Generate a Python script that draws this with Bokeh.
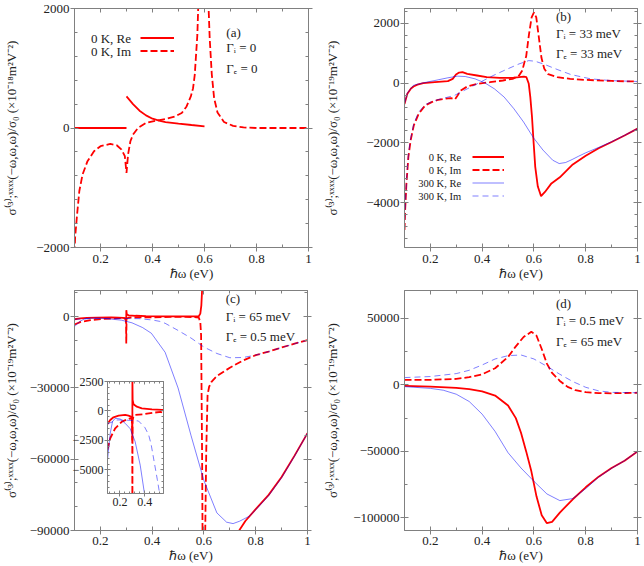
from bokeh.plotting import figure
from bokeh.models import (ColumnDataSource, FixedTicker, LinearAxis, Range1d,
                          Legend, LegendItem, Label, GridBox)
from bokeh.embed import file_html
from bokeh.resources import INLINE

nan = float("nan")

FONT = "Liberation Serif"
RED = "#ff0000"
BLUE = "#0000ff"
GRAY = "#808080"
TXT = "#222222"

# ---------------- ticks ----------------
x_ticks = [0.2, 0.4, 0.6, 0.8, 1.0]
x_tick_labels = ["0.2", "0.4", "0.6", "0.8", "1"]
x_minor = [0.3, 0.5, 0.7, 0.9]

a_yticks = [-2000, 0, 2000]
a_ytick_labels = ["\u22122000", "0", "2000"]
a_yminor = [-1600, -1200, -800, -400, 400, 800, 1200, 1600]

b_yticks = [-4000, -2000, 0, 2000]
b_ytick_labels = ["\u22124000", "\u22122000", "0", "2000"]
b_yminor = [-5200, -4800, -4400, -3600, -3200, -2800, -2400, -1600, -1200, -800, -400,
            400, 800, 1200, 1600, 2400]

c_yticks = [-90000, -60000, -30000, 0]
c_ytick_labels = ["\u221290000", "\u221260000", "\u221230000", "0"]
c_yminor = [-80000, -70000, -50000, -40000, -20000, -10000, 10000]

d_yticks = [-100000, -50000, 0, 50000]
d_ytick_labels = ["\u2212100000", "\u221250000", "0", "50000"]
d_yminor = [-75000, -25000, 25000]

in_xticks = [0.2, 0.4]
in_xtick_labels = ["0.2", "0.4"]
in_xminor = [0.12, 0.16, 0.24, 0.28, 0.32, 0.36, 0.44, 0.48, 0.52]
in_yticks = [-5000, -2500, 0, 2500]
in_ytick_labels = ["\u22125000", "\u22122500", "0", "2500"]
in_yminor = [-6500, -6000, -5500, -4500, -4000, -3500, -3000, -2000, -1500, -1000, -500,
             500, 1000, 1500, 2000]

# ---------------- panel (a): Gamma_i = 0, Gamma_e = 0 ----------------
a_re_x = [0.1, 0.3, nan, 0.3, 0.325, 0.35, 0.375, 0.4, 0.425, 0.45, 0.5, 0.55, 0.6]
a_re_y = [0, 0, nan, 528, 400, 290, 211, 156, 123, 100, 73, 50, 28]
a_im_x = [0.1, 0.1024, 0.11, 0.1186, 0.131, 0.15, 0.175, 0.2, 0.2375, 0.2625, 0.281,
          0.2936, 0.3, 0.306, 0.315, 0.325, 0.344, 0.375, 0.4124, 0.45, 0.4874, 0.5124,
          0.531, 0.5474, 0.556, 0.5625, 0.5725, 0.58, 0.59, 0.597, nan, 0.603, 0.61,
          0.615, 0.62, 0.628, 0.637, 0.65, 0.675, 0.71, 0.75, 0.8, 0.9, 1.0]
a_im_y = [-2100, -1833, -1444, -1055, -778, -555, -389, -305, -267, -289, -361,
          -472, -750, -444, -222, -111, 0, 84, 123, 150, 195, 250,
          361, 528, 667, 890, 1558, 2600, 5000, 12000, nan, 12000, 4000,
          2100, 1500, 900, 500, 260, 100, 35, 10, 0, 0, 0]

# ---------------- panel (b): 33 meV / 33 meV ----------------
b_re0_x = [0.1, 0.111, 0.125, 0.135, 0.15, 0.1725, 0.2175, 0.2675, 0.2862, 0.299, 0.311,
           0.324, 0.3425, 0.38, 0.4175, 0.4675, 0.5175, 0.5425, 0.561, 0.571, 0.58, 0.586,
           0.5925, 0.599, 0.605, 0.615, 0.6275, 0.6425, 0.6675, 0.7, 0.75, 0.8, 0.85, 0.9,
           0.95, 1.0]
b_re0_y = [-700, -355, -180, -110, -50, 0, 33, 67, 145, 290, 357,
           367, 312, 257, 200, 180, 180, 200, 223, 200, -20, -465,
           -1130, -2020, -2800, -3460, -3780, -3640, -3355, -3150, -2720, -2430, -2180, -1970,
           -1750, -1520]
b_im0_x = [0.1, 0.1025, 0.1075, 0.115, 0.1238, 0.136, 0.155, 0.18, 0.205, 0.23, 0.255,
           0.28, 0.295, 0.305, 0.3175, 0.3425, 0.38, 0.43, 0.48, 0.5175, 0.5425, 0.555,
           0.565, 0.57, 0.581, 0.591, 0.6, 0.609, 0.619, 0.629, 0.64, 0.655, 0.69, 0.74,
           0.8, 0.9, 1.0]
b_im0_y = [-4910, -4243, -3355, -2466, -1910, -1410, -1022, -744, -633, -555, -522,
           -500, -540, -411, -244, -110, -22, 33, 90, 145, 256, 423,
           756, 900, 1645, 2200, 2367, 2200, 1534, 850, 480, 300, 200, 145,
           110, 75, 55]
b_re3_x = [0.1, 0.111, 0.135, 0.1725, 0.2175, 0.2675, 0.305, 0.335, 0.3725, 0.41, 0.4475,
           0.485, 0.5225, 0.56, 0.5975, 0.635, 0.6725, 0.6975, 0.7225, 0.7475, 0.7725, 0.8,
           0.85, 0.9, 0.95, 1.0]
b_re3_y = [-687, -330, -70, 11, 90, 180, 235, 223, 145, 11, -190,
           -466, -855, -1300, -1820, -2240, -2578, -2690, -2655, -2555, -2445, -2330,
           -2150, -1960, -1745, -1520]
b_im3_x = [0.1, 0.1025, 0.1075, 0.115, 0.1238, 0.136, 0.155, 0.18, 0.205, 0.23, 0.2925,
           0.3425, 0.3925, 0.4425, 0.4925, 0.5425, 0.58, 0.605, 0.6425, 0.6925, 0.7425,
           0.769, 0.819, 0.9, 1.0]
b_im3_y = [-4900, -4200, -3300, -2400, -1850, -1350, -966, -720, -620, -550, -411,
           -189, 33, 256, 456, 645, 756, 734, 623, 450, 290,
           240, 145, 85, 57]

# ---------------- panel (c): 65 meV / 0.5 meV ----------------
c_re0_x = [0.1, 0.122, 0.148, 0.189, 0.242, 0.269, 0.288, 0.297, 0.2998, 0.3002, 0.302,
           0.309, 0.336, 0.376, 0.457, 0.537, 0.56, 0.58, 0.586, 0.59, 0.5925, 0.595, nan,
           0.605, 0.62, 0.66, 0.7, 0.736, 0.76, 0.8, 0.85, 0.9, 0.95, 1.0]
c_re0_y = [-1100, -762, -534, -398, -339, -398, -483, -700, -2500, 2700, 932,
           567, 364, 229, 144, 85, 100, 140, 1260, 4760, 10360, 30000, nan,
           -300000, -180000, -120000, -100000, -90000, -86000, -81000, -75000, -67500,
           -58500, -49000]
c_im0_x = [0.1, 0.122, 0.162, 0.216, 0.261, 0.282, 0.295, 0.299, 0.3, 0.301, 0.31,
           0.323, 0.389, 0.47, 0.529, 0.56, 0.58, 0.586, 0.589, 0.59, 0.593, 0.596, nan,
           0.604, 0.605, 0.609, 0.614, 0.62, 0.63, 0.65, 0.7, 0.75, 0.8, 0.85, 0.9, 0.95,
           1.0]
c_im0_y = [-3300, -2315, -1467, -905, -706, -621, -700, -1500, -11350, -800, -400,
           -339, -282, -141, -85, -200, -420, -2270, -7840, -20000, -60000, -120000, nan,
           -120000, -90000, -56000, -33000, -29500, -27300, -25000, -21500, -18500,
           -16200, -14700, -13000, -11400, -9900]
c_re3_x = [0.1, 0.103, 0.122, 0.14, 0.162, 0.202, 0.242, 0.282, 0.322, 0.363, 0.397,
           0.45, 0.5, 0.55, 0.6, 0.65, 0.6875, 0.7125, 0.7375, 0.775, 0.8, 0.85, 0.9,
           0.95, 1.0]
c_re3_y = [-4100, -3870, -1890, -906, -620, -677, -1044, -1500, -2600, -4600, -7000,
           -15000, -30000, -50000, -69000, -82600, -86500, -87100, -86100, -84000, -81300,
           -75300, -67800, -58700, -49000]
c_im3_x = [0.1, 0.1755, 0.229, 0.282, 0.349, 0.4, 0.43, 0.45, 0.5, 0.55, 0.6, 0.65,
           0.7, 0.75, 0.8, 0.85, 0.9, 0.95, 1.0]
c_im3_y = [-1100, -762, -762, -800, -847, -1400, -2000, -2800, -5800, -9000, -12800,
           -15500, -17300, -17200, -16200, -14700, -13000, -11400, -9900]

# ---------------- panel (d): 0.5 meV / 65 meV ----------------
d_re0_x = [0.1, 0.2, 0.3, 0.35, 0.4, 0.45, 0.5, 0.53, 0.55, 0.57, 0.59, 0.61, 0.63,
           0.65, 0.67, 0.7, 0.75, 0.8, 0.85, 0.9, 0.95, 1.0]
d_re0_y = [-800, -1300, -2300, -3200, -4800, -8000, -15500, -25000, -36000, -50000,
           -65000, -84000, -98000, -104000, -103000, -96000, -86000, -77000, -69000,
           -62500, -57000, -50000]
d_im0_x = [0.1, 0.2, 0.3, 0.35, 0.4, 0.45, 0.5, 0.53, 0.56, 0.59, 0.61, 0.63, 0.65,
           0.67, 0.7, 0.73, 0.76, 0.8, 0.85, 0.9, 1.0]
d_im0_y = [3800, 3800, 4500, 5800, 8000, 12500, 21000, 29000, 36000, 40000, 37000,
           27000, 16000, 9000, 3000, -1500, -4000, -5500, -6200, -6300, -5900]
d_re3_x = [0.1, 0.2, 0.25, 0.3, 0.35, 0.4, 0.45, 0.5, 0.55, 0.6, 0.65, 0.7, 0.75, 0.8,
           0.85, 0.9, 0.95, 1.0]
d_re3_y = [-1300, -2600, -4000, -7000, -12500, -22000, -35000, -51000, -62500, -72500,
           -82000, -87000, -85500, -78000, -69300, -62700, -57000, -50000]
d_im3_x = [0.1, 0.2, 0.3, 0.35, 0.4, 0.45, 0.5, 0.55, 0.6, 0.65, 0.7, 0.75, 0.8, 0.85,
           0.9, 1.0]
d_im3_y = [5500, 6300, 8500, 11000, 15000, 19500, 22000, 22500, 19500, 14000, 8000,
           2500, -1800, -4500, -5600, -5900]

# legend texts
a_legend = ["0 K, Re", "0 K, Im"]
b_legend = ["0 K, Re", "0 K, Im", "300 K, Re", "300 K, Im"]

XLABEL = "\u210f\u03c9 (eV)"
YLAB_18 = "\u03c3\u207d\u00b3\u207e;\u02e3\u02e3\u02e3\u02e3(\u2212\u03c9,\u03c9,\u03c9)/\u03c3\u2080 (\u00d710\u207b\u00b9\u2078m\u00b2V\u207b\u00b2)"
YLAB_19 = "\u03c3\u207d\u00b3\u207e;\u02e3\u02e3\u02e3\u02e3(\u2212\u03c9,\u03c9,\u03c9)/\u03c3\u2080 (\u00d710\u207b\u00b9\u2079m\u00b2V\u207b\u00b2)"


def mirror(p, xt, xm, yt, ym, tin, min_in, rout):
    common = dict(major_label_text_font_size="0px", major_label_standoff=0,
                  axis_line_color=GRAY, major_tick_line_color=GRAY,
                  minor_tick_line_color=GRAY, major_tick_in=tin,
                  minor_tick_in=min_in, minor_tick_out=0)
    top = LinearAxis(ticker=FixedTicker(ticks=xt, minor_ticks=xm), major_tick_out=0,
                     major_label_overrides={v: "" for v in xt}, **common)
    right = LinearAxis(ticker=FixedTicker(ticks=yt, minor_ticks=ym), major_tick_out=rout,
                       major_label_overrides={v: "" for v in yt}, **common)
    p.add_layout(top, "above")
    p.add_layout(right, "right")


def panel(yr, yt, ytl, ym, ylabel, bl, br, bt, bb, fw, fh, ylab_standoff,
          x_std, xl_std):
    p = figure(x_range=Range1d(0.1, 1.0), y_range=Range1d(*yr),
               frame_width=fw, frame_height=fh,
               min_border_left=bl, min_border_right=br,
               min_border_top=bt, min_border_bottom=bb,
               output_backend="svg", toolbar_location=None,
               background_fill_color="white", border_fill_color="white")
    p.xgrid.visible = False
    p.ygrid.visible = False
    p.outline_line_color = GRAY
    p.outline_line_width = 1
    for ax, t, tl, m in ((p.xaxis[0], x_ticks, x_tick_labels, x_minor),
                         (p.yaxis[0], yt, ytl, ym)):
        ax.ticker = FixedTicker(ticks=t, minor_ticks=m)
        ax.major_label_overrides = {v: s for v, s in zip(t, tl)}
        ax.axis_line_color = GRAY
        ax.major_tick_line_color = GRAY
        ax.minor_tick_line_color = GRAY
        ax.major_tick_in = 4
        ax.major_tick_out = 4
        ax.minor_tick_in = 3
        ax.minor_tick_out = 0
        ax.major_label_text_font = FONT
        ax.major_label_text_font_size = "13px"
        ax.major_label_text_color = TXT
        ax.axis_label_text_font = FONT
        ax.axis_label_text_font_size = "13px"
        ax.axis_label_text_font_style = "normal"
        ax.axis_label_text_color = TXT
    p.xaxis.axis_label = XLABEL
    p.xaxis.major_label_standoff = x_std
    p.xaxis.axis_label_standoff = xl_std
    p.yaxis.axis_label = ylabel
    p.yaxis.major_label_standoff = 1
    p.yaxis.axis_label_standoff = ylab_standoff
    mirror(p, x_ticks, x_minor, yt, ym, 4, 3, 4)
    return p


def curve(p, xs, ys, color, width, dash, alpha=1.0):
    src = ColumnDataSource(data=dict(x=xs, y=ys))
    return p.line("x", "y", source=src, line_color=color, line_width=width,
                  line_dash=dash, line_alpha=alpha)


def notes(p, x, ys, texts, align="left", size="13px"):
    for y, t in zip(ys, texts):
        p.add_layout(Label(x=x, y=y, text=t, text_font=FONT, text_font_size=size,
                           text_color=TXT, text_baseline="middle", text_align=align))


def legend_keys(p, renderers, loc, gw):
    # key samples (gnuplot style: text to the left, drawn separately as labels)
    leg = Legend(items=[LegendItem(label="", renderers=[r]) for r in renderers],
                 location=loc, orientation="vertical", glyph_width=gw, glyph_height=13,
                 label_height=13, label_width=0, label_standoff=0, spacing=0,
                 padding=0, margin=0, border_line_color=None,
                 background_fill_alpha=0, label_text_font=FONT,
                 label_text_font_size="9px")
    p.add_layout(leg)


RW = 1.8
BW = 1.0
BA = 0.5
RD = "7 3"
BD = "6 4"

# (a)  frame 67-307 x 8-247 (239 px tall, 16.74 units/px)
pa = panel((-2000, 2000), a_yticks, a_ytick_labels, a_yminor, YLAB_18,
           67, 15, 8, 36, 240, 239, 14, 3, 0)
ra1 = curve(pa, a_re_x, a_re_y, RED, RW, "solid")
ra2 = curve(pa, a_im_x, a_im_y, RED, RW, RD)
legend_keys(pa, [ra1, ra2], (66, 190), 34)
notes(pa, 0.3175, [1503, 1285], a_legend, "right")
notes(pa, 0.684, [1598, 1347, 996], ["(a)", "\u0393\u1d62 = 0", "\u0393\u2091 = 0"])

# (b)  frame 397-637 x 8-247 (33.47 units/px)
pb = panel((-5500, 2500), b_yticks, b_ytick_labels, b_yminor, YLAB_19,
           75, 6, 8, 36, 240, 239, 23, 3, 0)
rb1 = curve(pb, b_re0_x, b_re0_y, RED, RW, "solid")
rb2 = curve(pb, b_im0_x, b_im0_y, RED, RW, RD)
rb3 = curve(pb, b_re3_x, b_re3_y, BLUE, BW, "solid", BA)
rb4 = curve(pb, b_im3_x, b_im3_y, BLUE, BW, BD, BA)
legend_keys(pb, [rb1, rb2, rb3, rb4], (68, 45), 32)
notes(pb, 0.3186, [-2477, -2912, -3347, -3782], b_legend, "right", "10.5px")
notes(pb, 0.685, [2232, 1663, 994],
      ["(b)", "\u0393\u1d62 = 33 meV", "\u0393\u2091 = 33 meV"])

# (c)  frame 67-307 x 290-530 (420.8 units/px)
pc = panel((-90000, 11000), c_yticks, c_ytick_labels, c_yminor, YLAB_19,
           67, 15, 7, 35, 240, 240, 8, 2, 0)
curve(pc, c_re0_x, c_re0_y, RED, RW, "solid")
curve(pc, c_im0_x, c_im0_y, RED, RW, RD)
curve(pc, c_re3_x, c_re3_y, BLUE, BW, "solid", BA)
curve(pc, c_im3_x, c_im3_y, BLUE, BW, BD, BA)
notes(pc, 0.684, [7634, 59, -8357],
      ["(c)", "\u0393\u1d62 = 65 meV", "\u0393\u2091 = 0.5 meV"])

# (d)  frame 397-637 x 290-530 (752 units/px)
pd = panel((-109500, 71000), d_yticks, d_ytick_labels, d_yminor, YLAB_19,
           75, 6, 7, 35, 240, 240, 10, 2, 0)
curve(pd, d_re0_x, d_re0_y, RED, RW, "solid")
curve(pd, d_im0_x, d_im0_y, RED, RW, RD)
curve(pd, d_re3_x, d_re3_y, BLUE, BW, "solid", BA)
curve(pd, d_im3_x, d_im3_y, BLUE, BW, BD, BA)
notes(pd, 0.685, [61224, 48666, 32648],
      ["(d)", "\u0393\u1d62 = 0.5 meV", "\u0393\u2091 = 65 meV"])

# inset of (c): frame 107-163 x 381-493
pin = figure(x_range=Range1d(0.1, 0.55), y_range=Range1d(-7000, 2500),
             frame_width=56, frame_height=112, min_border_left=39, min_border_right=5,
             min_border_top=11, min_border_bottom=20, output_backend="svg",
             toolbar_location=None, background_fill_color="white",
             border_fill_color=None)
pin.xgrid.visible = False
pin.ygrid.visible = False
pin.outline_line_color = GRAY
for ax, t, tl, m in ((pin.xaxis[0], in_xticks, in_xtick_labels, in_xminor),
                     (pin.yaxis[0], in_yticks, in_ytick_labels, in_yminor)):
    ax.ticker = FixedTicker(ticks=t, minor_ticks=m)
    ax.major_label_overrides = {v: s for v, s in zip(t, tl)}
    ax.axis_line_color = GRAY
    ax.major_tick_line_color = GRAY
    ax.minor_tick_line_color = GRAY
    ax.major_tick_in = 3
    ax.major_tick_out = 3
    ax.minor_tick_in = 2
    ax.minor_tick_out = 0
    ax.major_label_text_font = FONT
    ax.major_label_text_font_size = "12px"
    ax.major_label_text_color = TXT
    ax.major_label_standoff = 1
mirror(pin, in_xticks, in_xminor, in_yticks, in_yminor, 3, 2, 0)
curve(pin, c_re0_x, c_re0_y, RED, RW, "solid")
curve(pin, c_im0_x, c_im0_y, RED, RW, RD)
curve(pin, c_re3_x, c_re3_y, BLUE, BW, "solid", BA)
curve(pin, c_im3_x, c_im3_y, BLUE, BW, BD, BA)

grid = GridBox(children=[(pa, 0, 0, 1, 3), (pb, 0, 3, 1, 1), (pc, 1, 0, 3, 3),
                         (pd, 1, 3, 3, 1), (pin, 2, 1, 1, 1)],
               rows=["283px", "87px", "143px", "52px"],
               cols=["68px", "100px", "154px", "321px"], spacing=0)

open("out.html", "w").write(file_html(grid, INLINE))
